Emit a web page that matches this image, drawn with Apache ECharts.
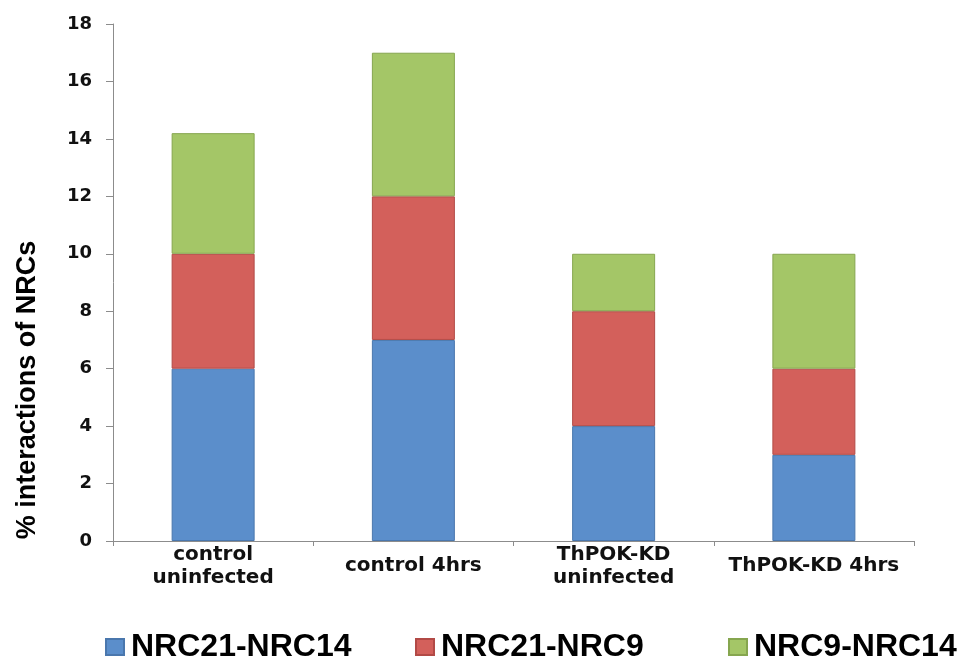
<!DOCTYPE html>
<html>
<head>
<meta charset="utf-8">
<script src="https://cdn.jsdelivr.net/npm/echarts@6/dist/echarts.min.js"></script>
<style>
html,body{margin:0;padding:0;background:#fff;}
#main{width:958px;height:664px;}
</style>
</head>
<body>
<div id="main"></div>
<script>
// Data
var categories = ['control\nuninfected', 'control 4hrs', 'ThPOK-KD\nuninfected', 'ThPOK-KD 4hrs'];
var seriesNames = ['NRC21-NRC14', 'NRC21-NRC9', 'NRC9-NRC14'];
var nrc21_nrc14 = [6, 7, 4, 3];
var nrc21_nrc9 = [4, 5, 4, 3];
var nrc9_nrc14 = [4.2, 5, 2, 4];
var yTicks = {min: 0, max: 18, interval: 2};
var yTitle = '% interactions of NRCs';

var colors = ['#5b8ecb', '#d3605b', '#a4c667'];
var borders = ['#4a77ad', '#b24a46', '#86a64f'];
var values = [nrc21_nrc14, nrc21_nrc9, nrc9_nrc14];

var chart = echarts.init(document.getElementById('main'), null, {renderer: 'canvas'});

var series = seriesNames.map(function (n, i) {
  return {
    name: n,
    type: 'bar',
    stack: 'total',
    barWidth: 83,
    data: values[i],
    itemStyle: {color: colors[i], borderColor: borders[i], borderWidth: 1},
    emphasis: {disabled: true}
  };
});

var legendPos = [105, 415, 728];
var legends = seriesNames.map(function (n, i) {
  return {
    data: [n],
    left: legendPos[i],
    top: 631,
    padding: 0,
    icon: 'rect',
    itemWidth: 18,
    itemHeight: 16,
    itemGap: 0,
    textStyle: {fontFamily: 'Liberation Sans, Arial, sans-serif', fontWeight: 'bold', fontSize: 32, color: '#000', padding: [0, 0, 0, 2]},
    selectedMode: false
  };
});

var option = {
  animation: false,
  backgroundColor: '#ffffff',
  color: colors,
  grid: {left: 113, right: 44, top: 24, bottom: 123, containLabel: false},
  legend: legends,
  graphic: [{
    type: 'text',
    x: 28,
    y: 390,
    rotation: Math.PI / 2,
    style: {
      text: yTitle,
      font: 'bold 27px "Liberation Sans", Arial, sans-serif',
      fill: '#000',
      align: 'center',
      verticalAlign: 'middle'
    }
  }],
  xAxis: {
    type: 'category',
    data: categories,
    axisLine: {lineStyle: {color: '#8c8c8c', width: 1}},
    axisTick: {show: true, length: 5, alignWithLabel: false, lineStyle: {color: '#8c8c8c'}},
    axisLabel: {
      interval: 0,
      margin: 25,
      verticalAlign: 'middle',
      fontFamily: 'DejaVu Sans, sans-serif',
      fontWeight: 'bold',
      fontSize: 20,
      lineHeight: 23,
      color: '#111'
    }
  },
  yAxis: {
    type: 'value',
    min: yTicks.min,
    max: yTicks.max,
    interval: yTicks.interval,
    splitLine: {show: false},
    axisLine: {show: true, lineStyle: {color: '#8c8c8c', width: 1}},
    axisTick: {show: true, length: 7, lineStyle: {color: '#8c8c8c'}},
    axisLabel: {
      margin: 21,
      fontFamily: 'DejaVu Sans, sans-serif',
      fontWeight: 'bold',
      fontSize: 18,
      color: '#111'
    }
  },
  series: series
};

chart.setOption(option);
</script>
</body>
</html>
